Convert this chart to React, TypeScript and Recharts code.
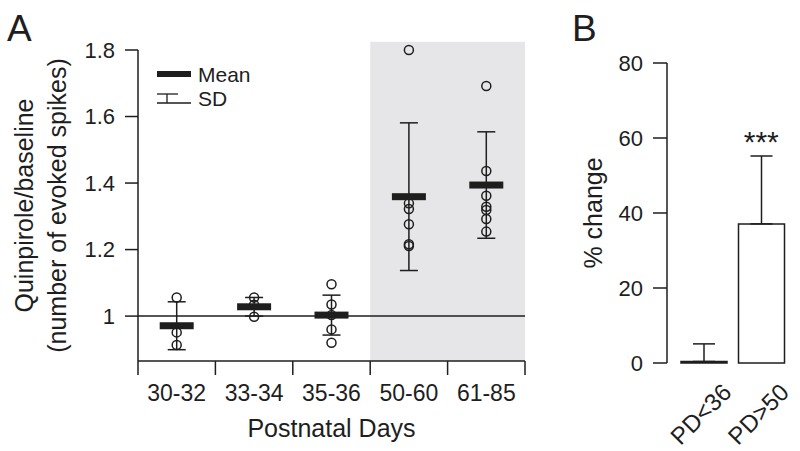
import React from "react";
import {
  ScatterChart,
  BarChart,
  Scatter,
  Bar,
  Cell,
  XAxis,
  YAxis,
  ReferenceArea,
  ReferenceLine,
  ReferenceDot,
  ErrorBar,
  Legend,
  Label,
} from "recharts";

const FONT = '"Liberation Sans", Arial, Helvetica, sans-serif';
const INK = "#1e1e1e";

// Panel A: quinpirole effect by age group
const AGE_GROUPS = ["30-32", "33-34", "35-36", "50-60", "61-85"];
const GROUP_MEANS = [0.971, 1.028, 1.003, 1.359, 1.394];
const GROUP_SD = [0.072, 0.028, 0.06, 0.222, 0.16];
const CELLS_30_32 = [1.056, 0.951, 0.913];
const CELLS_33_34 = [1.056, 1.034, 0.998];
const CELLS_35_36 = [1.096, 1.035, 1.003, 0.96, 0.92];
const CELLS_50_60 = [1.8, 1.339, 1.322, 1.276, 1.216, 1.211];
const CELLS_61_85 = [1.692, 1.436, 1.362, 1.329, 1.319, 1.292, 1.254];
const Y_TICKS_A = [1, 1.2, 1.4, 1.6, 1.8];
const LEGEND_ITEMS = ["Mean", "SD"];

// Panel B: % change summary
const B_GROUPS = ["PD<36", "PD>50"];
const B_CHANGE = [0.4, 37.1];
const B_SD = [4.7, 18.1];
const Y_TICKS_B = [0, 20, 40, 60, 80];

const ALL_CELLS = [CELLS_30_32, CELLS_33_34, CELLS_35_36, CELLS_50_60, CELLS_61_85];

const cellPoints = ALL_CELLS.flatMap((vals, i) =>
  vals.map((v) => ({ x: i + 0.5, y: v }))
);
const meanPoints = AGE_GROUPS.map((_, i) => ({
  x: i + 0.5,
  y: GROUP_MEANS[i],
  sd: GROUP_SD[i],
}));
// boundaries get tick marks, half-steps get the group names
const xTicksA = Array.from({ length: AGE_GROUPS.length * 2 + 1 }, (_, i) => i / 2);

const barData = B_GROUPS.map((name, i) => ({
  name,
  change: B_CHANGE[i],
  err: [0, B_SD[i]],
}));

const CircleShape = (props: any) => (
  <circle cx={props.cx} cy={props.cy} r={4.5} fill="none" stroke={INK} strokeWidth={1.5} />
);

const MeanShape = (props: any) => (
  <rect x={props.cx - 17} y={props.cy - 3.5} width={34} height={7} fill={INK} />
);

const AgeTick = (props: any) => {
  const { x, y, payload } = props;
  const v = payload.value;
  if (Number.isInteger(v)) {
    return <line x1={x} y1={y} x2={x} y2={y + 14} stroke={INK} strokeWidth={1.5} />;
  }
  return (
    <text x={x} y={y + 40} textAnchor="middle" fontSize={23} fill={INK}>
      {AGE_GROUPS[Math.floor(v)]}
    </text>
  );
};

const GroupTick = (props: any) => {
  const { x, y, payload } = props;
  const tx = x + 3;
  const ty = y + 57;
  return (
    <text
      x={tx}
      y={ty}
      transform={`rotate(-45 ${tx} ${ty})`}
      textAnchor="middle"
      fontSize={24}
      fill={INK}
    >
      {payload.value}
    </text>
  );
};

const MeanSdLegend = () => (
  <svg width={110} height={52} style={{ display: "block" }}>
    <rect x={7} y={11} width={34} height={6} fill={INK} />
    <text x={48} y={22} fontSize={21} fill={INK}>
      {LEGEND_ITEMS[0]}
    </text>
    <line x1={7} y1={34} x2={28} y2={34} stroke={INK} strokeWidth={1.3} />
    <line x1={17} y1={34} x2={17} y2={43} stroke={INK} strokeWidth={1.3} />
    <line x1={7} y1={43} x2={41} y2={43} stroke={INK} strokeWidth={1.3} />
    <text x={48} y={46} fontSize={21} fill={INK}>
      {LEGEND_ITEMS[1]}
    </text>
  </svg>
);

export default function App() {
  return (
    <div
      style={{
        position: "absolute",
        left: 0,
        top: 0,
        width: 800,
        height: 451,
        background: "#fff",
        fontFamily: FONT,
      }}
    >
      {/* Panel A */}
      <div style={{ position: "absolute", left: 0, top: 0 }}>
        <ScatterChart width={545} height={451} margin={{ top: 50, right: 20, bottom: 10, left: 0 }}>
          <ReferenceArea
            x1={3}
            x2={5}
            y1={0.865}
            y2={1.825}
            fill="#e6e6e8"
            fillOpacity={1}
            stroke="none"
            ifOverflow="visible"
          />
          <XAxis
            type="number"
            dataKey="x"
            domain={[0, 5]}
            ticks={xTicksA}
            interval={0}
            tick={<AgeTick />}
            tickLine={false}
            tickSize={0}
            tickMargin={0}
            axisLine={{ stroke: INK, strokeWidth: 1.5 }}
            height={80}
          >
            <Label value="Postnatal Days" position="insideBottom" offset={4} fontSize={25} fill={INK} />
          </XAxis>
          <YAxis
            type="number"
            dataKey="y"
            domain={[0.865, 1.8]}
            ticks={Y_TICKS_A}
            interval={0}
            width={138}
            tickSize={13}
            tickMargin={10}
            tick={{ fontSize: 22, fill: INK }}
            tickFormatter={(v: number) => (v === 1 ? "1" : v.toFixed(1))}
            axisLine={{ stroke: INK, strokeWidth: 1.5 }}
            tickLine={{ stroke: INK, strokeWidth: 1.5 }}
          >
            <Label
              value="Quinpirole/baseline"
              angle={-90}
              position="insideLeft"
              offset={24}
              fontSize={25}
              fill={INK}
              style={{ textAnchor: "middle" }}
            />
            <Label
              value="(number of evoked spikes)"
              angle={-90}
              position="insideLeft"
              offset={57}
              fontSize={25}
              fill={INK}
              style={{ textAnchor: "middle" }}
            />
          </YAxis>
          <ReferenceLine y={1} stroke={INK} strokeWidth={1.5} />
          <Scatter data={meanPoints} shape={MeanShape} isAnimationActive={false}>
            <ErrorBar dataKey="sd" direction="y" width={9} stroke={INK} strokeWidth={1.5} />
          </Scatter>
          <Scatter data={cellPoints} shape={CircleShape} isAnimationActive={false} />
          <Legend
            verticalAlign="middle"
            align="center"
            layout="horizontal"
            content={<MeanSdLegend />}
            wrapperStyle={{ left: 150, top: 60, width: 110, height: 52 }}
          />
        </ScatterChart>
      </div>

      {/* Panel B */}
      <div style={{ position: "absolute", left: 560, top: 0 }}>
        <BarChart width={240} height={451} data={barData} margin={{ top: 63, right: 10, bottom: 0, left: 0 }}>
          <XAxis
            dataKey="name"
            axisLine={false}
            tickLine={false}
            tickSize={0}
            tickMargin={0}
            interval={0}
            padding={{ left: 8, right: 0 }}
            height={88}
            tick={<GroupTick />}
          />
          <YAxis
            type="number"
            domain={[0, 80]}
            ticks={Y_TICKS_B}
            interval={0}
            width={107}
            tickSize={14}
            tickMargin={10}
            tick={{ fontSize: 22, fill: INK }}
            axisLine={{ stroke: INK, strokeWidth: 1.5 }}
            tickLine={{ stroke: INK, strokeWidth: 1.5 }}
          >
            <Label
              value="% change"
              angle={-90}
              position="insideLeft"
              offset={33}
              fontSize={25}
              fill={INK}
              style={{ textAnchor: "middle" }}
            />
          </YAxis>
          <Bar dataKey="change" barSize={46} stroke={INK} strokeWidth={1.5} isAnimationActive={false}>
            {barData.map((d, i) => (
              <Cell key={d.name} fill={i === 0 ? INK : "#ffffff"} />
            ))}
            <ErrorBar dataKey="err" direction="y" width={11} stroke={INK} strokeWidth={1.5} />
          </Bar>
          <ReferenceDot
            x="PD>50"
            y={59}
            r={0}
            stroke="none"
            label={{ value: "***", position: "center", fontSize: 30, fill: INK }}
          />
        </BarChart>
      </div>

      {/* panel letters */}
      <svg
        width={800}
        height={451}
        style={{ position: "absolute", left: 0, top: 0, pointerEvents: "none" }}
      >
        <text x={7} y={41} fontSize={37} fill={INK} fontFamily={FONT}>
          A
        </text>
        <text x={572} y={41} fontSize={37} fill={INK} fontFamily={FONT}>
          B
        </text>
      </svg>
    </div>
  );
}
